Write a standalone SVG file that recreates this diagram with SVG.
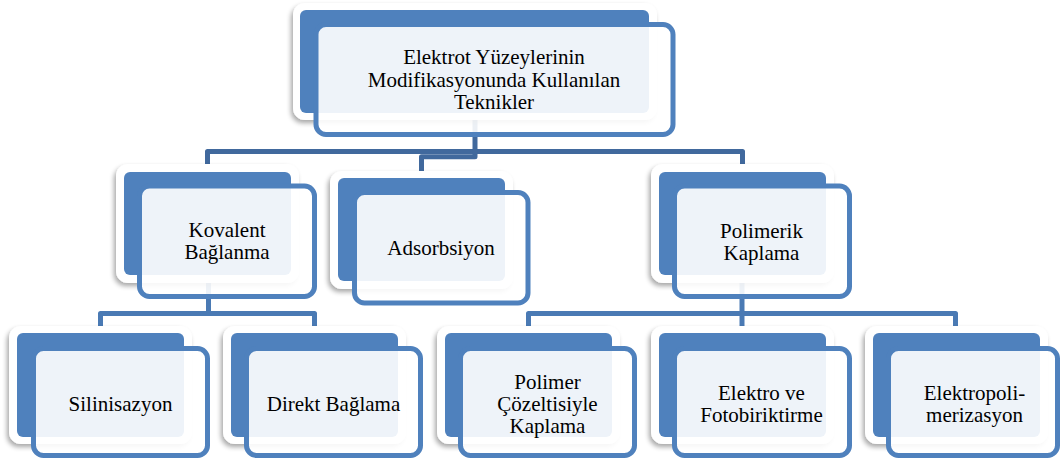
<svg xmlns="http://www.w3.org/2000/svg" width="1060" height="459" viewBox="0 0 1060 459">
  <defs>
    <filter id="sh" x="-10%" y="-10%" width="120%" height="125%">
      <feGaussianBlur in="SourceAlpha" stdDeviation="2.5"/>
      <feOffset dx="-2" dy="3" result="b"/>
      <feComponentTransfer><feFuncA type="linear" slope="0.35"/></feComponentTransfer>
      <feMerge><feMergeNode/><feMergeNode in="SourceGraphic"/></feMerge>
    </filter>
  </defs>
  <style>
    .bk{fill:#ffffff;filter:url(#sh)}
    .bl{fill:#4F81BD}
    .fr{fill:#ffffff;fill-opacity:0.9;stroke:#4F81BD;stroke-width:5}
    .c1{fill:none;stroke:#41699D;stroke-width:5;stroke-linejoin:round}
    .c2{fill:none;stroke:#4A7AB4;stroke-width:5;stroke-linejoin:round}
  </style>
  <rect width="1060" height="459" fill="#ffffff"/>
  <g id="connectors">
    <path class="c1" d="M207.5 166 V151.5 H742.5 V166"/>
    <path class="c1" d="M475 110 V156.8 H421.5 V174"/>
    <path class="c2" d="M208.5 270 V313.5"/>
    <path class="c2" d="M100.5 328 V313.5 H314.5 V328"/>
    <path class="c2" d="M742 270 V328"/>
    <path class="c2" d="M528.5 328 V313.5 H955.5 V328"/>
  </g>
  <g id="nodes" font-family="Liberation Serif, Times New Roman, serif" font-size="21" fill="#000000" text-anchor="middle">
  <g id="n-root">
    <rect class="bk" x="293" y="3" width="364" height="117" rx="12"/>
    <rect class="bl" x="300" y="10" width="349" height="103" rx="6"/>
    <rect class="fr" x="316" y="24.5" width="357" height="110" rx="10"/>
    <text x="494" y="64">Elektrot Yüzeylerinin</text>
    <text x="494" y="87">Modifikasyonunda Kullanılan</text>
    <text x="494" y="109">Teknikler</text>
  </g>
  <g id="n-kovalent">
    <rect class="bk" x="116" y="164" width="183" height="119" rx="12"/>
    <rect class="bl" x="124" y="172" width="167" height="103" rx="6"/>
    <rect class="fr" x="139.5" y="186" width="175" height="110.5" rx="10"/>
    <text x="227" y="237">Kovalent</text>
    <text x="227" y="259">Bağlanma</text>
  </g>
  <g id="n-adsorbsiyon">
    <rect class="bk" x="330" y="171" width="183" height="118" rx="12"/>
    <rect class="bl" x="338" y="178" width="167" height="103" rx="6"/>
    <rect class="fr" x="354.5" y="192.5" width="173.5" height="110.5" rx="10"/>
    <text x="441" y="255">Adsorbsiyon</text>
  </g>
  <g id="n-polimerik">
    <rect class="bk" x="651" y="164" width="183" height="119" rx="12"/>
    <rect class="bl" x="659" y="172" width="167" height="103" rx="6"/>
    <rect class="fr" x="674.5" y="186" width="175" height="110.5" rx="10"/>
    <text x="761.5" y="238">Polimerik</text>
    <text x="761.5" y="260">Kaplama</text>
  </g>
  <g id="n-silinisazyon">
    <rect class="bk" x="9" y="326" width="183" height="118" rx="12"/>
    <rect class="bl" x="17" y="333" width="167" height="104" rx="6"/>
    <rect class="fr" x="33.5" y="348.5" width="174" height="107" rx="10"/>
    <text x="120.5" y="411">Silinisazyon</text>
  </g>
  <g id="n-direkt">
    <rect class="bk" x="223" y="326" width="183" height="118" rx="12"/>
    <rect class="bl" x="231" y="333" width="167" height="104" rx="6"/>
    <rect class="fr" x="246.5" y="348.5" width="174" height="107" rx="10"/>
    <text x="333.5" y="411">Direkt Bağlama</text>
  </g>
  <g id="n-polimer-cozelti">
    <rect class="bk" x="437" y="326" width="183" height="118" rx="12"/>
    <rect class="bl" x="445" y="333" width="167" height="104" rx="6"/>
    <rect class="fr" x="460.5" y="348.5" width="174" height="107" rx="10"/>
    <text x="547.5" y="389">Polimer</text>
    <text x="547.5" y="411">Çözeltisiyle</text>
    <text x="547.5" y="433">Kaplama</text>
  </g>
  <g id="n-elektro-foto">
    <rect class="bk" x="651" y="326" width="183" height="118" rx="12"/>
    <rect class="bl" x="659" y="333" width="167" height="104" rx="6"/>
    <rect class="fr" x="674.5" y="348.5" width="175" height="107" rx="10"/>
    <text x="761.5" y="400">Elektro ve</text>
    <text x="761.5" y="422">Fotobiriktirme</text>
  </g>
  <g id="n-elektropoli">
    <rect class="bk" x="865" y="326" width="183" height="118" rx="12"/>
    <rect class="bl" x="873" y="333" width="167" height="104" rx="6"/>
    <rect class="fr" x="888.5" y="348.5" width="169" height="107" rx="10"/>
    <text x="974.5" y="400">Elektropoli-</text>
    <text x="974.5" y="422">merizasyon</text>
  </g>
  </g>
</svg>
